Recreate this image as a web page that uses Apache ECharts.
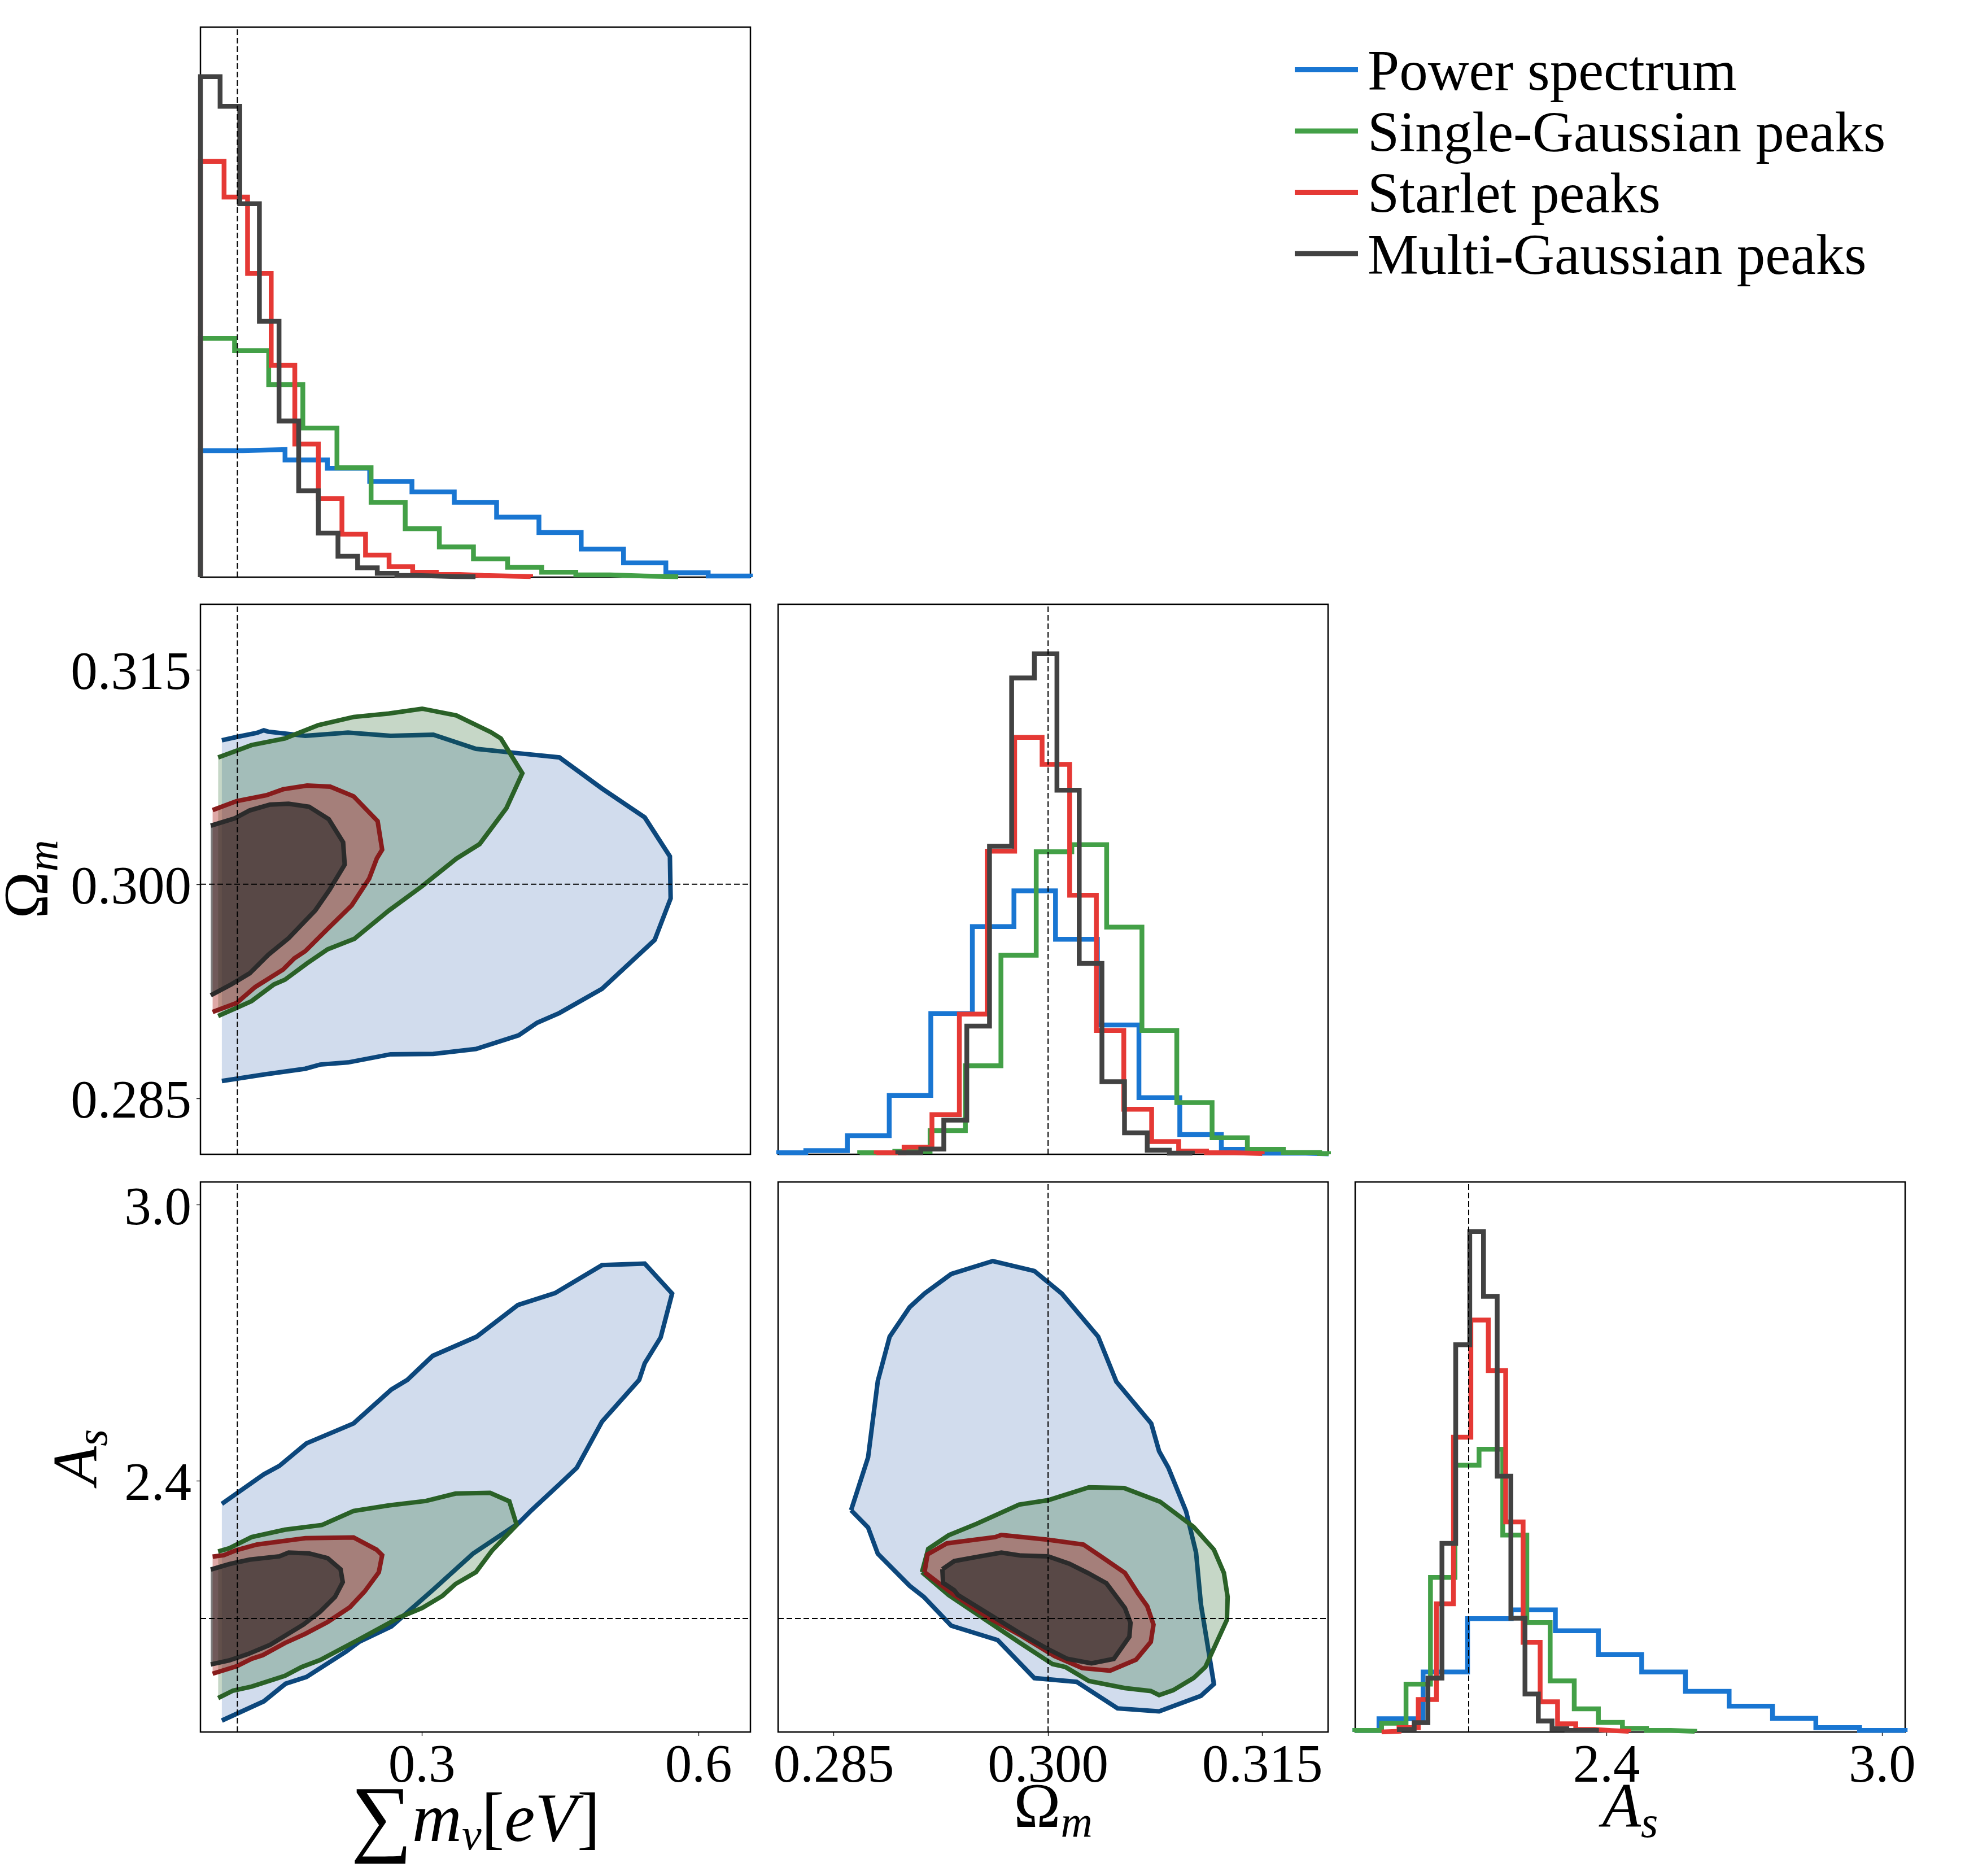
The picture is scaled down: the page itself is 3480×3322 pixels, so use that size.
<!DOCTYPE html>
<html style="height: 100%">
<head>
    <meta charset="utf-8">
    <title>Corner plot</title>
    <script src="https://cdn.jsdelivr.net/npm/echarts@6/dist/echarts.min.js"></script>
</head>
<body style="height: 100%; margin: 0; background: #fff">
    <div id="container" style="width: 3480px; height: 3322px"></div>
    <script type="text/javascript">

        const seriesNames = ['Power spectrum', 'Single-Gaussian peaks', 'Starlet peaks', 'Multi-Gaussian peaks'];

        // tick labels and true values
        const massTicks = [0.3, 0.6];
        const omegaTicks = [0.285, 0.300, 0.315];
        const asTicks = [2.4, 3.0];
        const truthMass = 0.1;
        const truthOmega = 0.3;
        const truthAs = 2.1;

        // axis ranges
        const massRange = [0.06, 0.6563];
        const omegaRange = [0.2811, 0.3196];
        const asRange = [1.853, 3.05];

        // 1D histograms, bin edges then heights (percent of panel height)
        const massEdgesPower = [0.06, 0.1059, 0.1517, 0.1976, 0.2435, 0.2893, 0.3352, 0.3811, 0.4270, 0.4728, 0.5187, 0.5646, 0.6105, 0.6563];
        const massHistPower = [23.0, 23.2, 21.3, 19.8, 17.4, 15.5, 13.6, 10.9, 8.1, 5.1, 2.6, 0.8, 0.2];
        const massEdgesSingle = [0.06, 0.097, 0.134, 0.171, 0.208, 0.245, 0.282, 0.319, 0.356, 0.393, 0.430, 0.467, 0.504, 0.541, 0.578];
        const massHistSingle = [43.4, 41.2, 35.0, 27.1, 19.9, 13.6, 8.8, 5.5, 3.3, 1.8, 0.9, 0.4, 0.2, 0.07];
        const massEdgesStarlet = [0.06, 0.0856, 0.1111, 0.1367, 0.1623, 0.1878, 0.2134, 0.239, 0.2645, 0.2901, 0.3157, 0.3413, 0.3668, 0.3924, 0.418];
        const massHistStarlet = [75.6, 69.1, 55.2, 38.5, 24.2, 14.3, 7.8, 4.0, 1.9, 0.9, 0.5, 0.3, 0.2, 0.1];
        const massEdgesMulti = [0.06, 0.0813, 0.1026, 0.1239, 0.1452, 0.1665, 0.1878, 0.2091, 0.2304, 0.2517, 0.273, 0.2943, 0.3156, 0.3369, 0.3582];
        const massHistMulti = [91.0, 85.6, 67.9, 46.5, 28.4, 15.7, 8.0, 3.8, 1.7, 0.7, 0.3, 0.2, 0.1, 0.07];

        const omegaEdgesPower = [0.28114, 0.28304, 0.28595, 0.28888, 0.29179, 0.2947, 0.29761, 0.30052, 0.30345, 0.30636, 0.30922, 0.31213, 0.31512, 0.31803, 0.31964];
        const omegaHistPower = [0.27, 0.67, 3.4, 10.7, 25.6, 41.4, 47.9, 39.1, 23.5, 10.3, 3.6, 0.9, 0.2, 0.07];
        const omegaEdgesSingle = [0.28681, 0.28927, 0.29174, 0.29421, 0.2967, 0.29917, 0.30166, 0.3041, 0.30657, 0.30901, 0.31148, 0.31395, 0.31647, 0.31901, 0.31964];
        const omegaHistSingle = [0.27, 0.54, 4.3, 16.1, 36.2, 55.0, 56.3, 41.3, 22.5, 9.4, 3.0, 0.9, 0.34, 0.13];
        const omegaEdgesStarlet = [0.28797, 0.28992, 0.29187, 0.29379, 0.29574, 0.29766, 0.29958, 0.30151, 0.30338, 0.3053, 0.30725, 0.30914, 0.31109, 0.31304, 0.31499];
        const omegaHistStarlet = [0.27, 1.3, 7.2, 25.5, 55.1, 75.8, 70.9, 47.1, 22.5, 8.2, 2.3, 0.6, 0.27, 0.13];
        const omegaEdgesMulti = [0.28948, 0.29109, 0.2927, 0.29431, 0.2959, 0.29745, 0.29904, 0.30062, 0.30218, 0.30377, 0.30535, 0.30694, 0.30849, 0.3101];
        const omegaHistMulti = [0.27, 0.94, 6.2, 23.3, 56.0, 86.6, 91.0, 66.2, 34.7, 13.2, 3.9, 0.74, 0.2];

        const asEdgesPower = [1.8524, 1.9048, 2.0008, 2.0976, 2.1927, 2.2887, 2.3823, 2.4766, 2.5718, 2.6669, 2.7613, 2.8556, 2.9508, 3.05];
        const asHistPower = [0.27, 2.4, 10.9, 20.6, 22.2, 18.4, 14.1, 10.9, 7.4, 4.7, 2.5, 0.8, 0.27];
        const asEdgesSingle = [1.8524, 1.9105, 1.9637, 2.0169, 2.0702, 2.1226, 2.1742, 2.2266, 2.2774, 2.3298, 2.3823, 2.4347, 2.4871, 2.5395, 2.5919];
        const asHistSingle = [0.27, 1.6, 8.7, 28.1, 48.5, 51.4, 35.8, 19.9, 9.3, 4.2, 1.75, 0.67, 0.27, 0.13];
        const asEdgesStarlet = [1.9105, 1.9484, 1.9903, 2.0298, 2.0669, 2.1048, 2.1427, 2.1806, 2.2185, 2.2556, 2.2935, 2.3331, 2.3742, 2.4105, 2.4484];
        const asHistStarlet = [0.13, 0.8, 5.9, 23.3, 53.6, 74.9, 65.7, 38.2, 16.3, 5.5, 1.5, 0.47, 0.27, 0.13];
        const asEdgesMulti = [1.9492, 1.9814, 2.0113, 2.0419, 2.0718, 2.1024, 2.1323, 2.1621, 2.1919, 2.2226, 2.2516, 2.2815, 2.3137, 2.3782];
        const asHistMulti = [0.47, 1.7, 9.8, 34.3, 70.4, 91.0, 79.2, 46.5, 20.7, 6.9, 2.0, 0.6, 0.27];

        // 2D contours, mass vs omega
        const massOmegaPower = [[0.0832, 0.31008], [0.0993, 0.31031], [0.1214, 0.3106], [0.1287, 0.31078], [0.1335, 0.31068], [0.1737, 0.31039], [0.2200, 0.31062], [0.2662, 0.31039], [0.3125, 0.31047], [0.3587, 0.30948], [0.4050, 0.30917], [0.4492, 0.30888], [0.4954, 0.3067], [0.5417, 0.30468], [0.5690, 0.30195], [0.5698, 0.29901], [0.5525, 0.2961], [0.4954, 0.29268], [0.4492, 0.29099], [0.4251, 0.29031], [0.4050, 0.28943], [0.3587, 0.28847], [0.3125, 0.28813], [0.2662, 0.2881], [0.2200, 0.28753], [0.1898, 0.28738], [0.1737, 0.28709], [0.1287, 0.28668], [0.0832, 0.28623]];
        const massOmegaSingle = [[0.0792, 0.30888], [0.0993, 0.30935], [0.1154, 0.30974], [0.1516, 0.31021], [0.1878, 0.31114], [0.2260, 0.31171], [0.2642, 0.31195], [0.3004, 0.31229], [0.3374, 0.31182], [0.3748, 0.31065], [0.3857, 0.31021], [0.4090, 0.30777], [0.3917, 0.30532], [0.3627, 0.30281], [0.3374, 0.30179], [0.3004, 0.29987], [0.2642, 0.29816], [0.2268, 0.29618], [0.1979, 0.29545], [0.1757, 0.29447], [0.1516, 0.29332], [0.1396, 0.29299], [0.1154, 0.29182], [0.0993, 0.29135], [0.0792, 0.29078]];
        const massOmegaStarlet = [[0.0732, 0.30519], [0.0993, 0.30582], [0.1315, 0.30623], [0.1496, 0.30665], [0.1757, 0.30691], [0.2007, 0.30683], [0.2260, 0.30616], [0.2521, 0.30442], [0.2570, 0.30242], [0.2513, 0.30182], [0.2429, 0.30039], [0.2240, 0.29852], [0.1979, 0.29688], [0.1737, 0.29532], [0.1617, 0.29481], [0.1496, 0.29403], [0.1194, 0.29281], [0.0993, 0.29169], [0.0732, 0.29106]];
        const massOmegaMulti = [[0.0712, 0.3041], [0.0973, 0.30462], [0.1134, 0.30517], [0.1355, 0.30558], [0.1556, 0.30564], [0.1777, 0.30543], [0.1991, 0.30455], [0.2147, 0.30294], [0.2164, 0.30138], [0.1999, 0.29961], [0.1846, 0.29818], [0.1556, 0.29623], [0.1335, 0.29506], [0.1134, 0.29377], [0.0933, 0.29299], [0.0712, 0.29223]];

        // 2D contours, mass vs As
        const massAsPower = [[0.0832, 2.3494], [0.1287, 2.4137], [0.1456, 2.4321], [0.1749, 2.4811], [0.2260, 2.5245], [0.2670, 2.5984], [0.2843, 2.6193], [0.3117, 2.6715], [0.3595, 2.7133], [0.4042, 2.7823], [0.4444, 2.8080], [0.4954, 2.8691], [0.5417, 2.8723], [0.5714, 2.8072], [0.5590, 2.7117], [0.5417, 2.6554], [0.5357, 2.6193], [0.4954, 2.5285], [0.4681, 2.4281], [0.4492, 2.3920], [0.4190, 2.3357], [0.4050, 2.3076], [0.3555, 2.2410], [0.3125, 2.1631], [0.2670, 2.0827], [0.2320, 2.0490], [0.2180, 2.0281], [0.1749, 1.9727], [0.1524, 1.9582], [0.1287, 1.9197], [0.0832, 1.8779]];
        const massAsSingle = [[0.0792, 2.2458], [0.0913, 2.2530], [0.1154, 2.2771], [0.1516, 2.2932], [0.1918, 2.3036], [0.2260, 2.3341], [0.2642, 2.3462], [0.3044, 2.3558], [0.3366, 2.3719], [0.3740, 2.3735], [0.3949, 2.3550], [0.4029, 2.3036], [0.3760, 2.2474], [0.3587, 2.2008], [0.3366, 2.1751], [0.3225, 2.1494], [0.3004, 2.1229], [0.2763, 2.1028], [0.2320, 2.0546], [0.1898, 2.0096], [0.1697, 1.9944], [0.1516, 1.9751], [0.1154, 1.9518], [0.0953, 1.9430], [0.0792, 1.9269]];
        const massAsStarlet = [[0.0732, 2.2345], [0.0853, 2.2378], [0.0993, 2.2490], [0.1214, 2.2610], [0.1516, 2.2691], [0.1737, 2.2747], [0.2260, 2.2763], [0.2509, 2.2498], [0.2570, 2.2378], [0.2534, 2.2008], [0.2381, 2.1590], [0.2220, 2.1245], [0.1979, 2.0924], [0.1737, 2.0667], [0.1516, 2.0466], [0.1275, 2.0201], [0.1154, 2.0121], [0.0993, 1.9960], [0.0732, 1.9799]];
        const massAsMulti = [[0.0712, 2.2064], [0.0913, 2.2185], [0.1134, 2.2281], [0.1456, 2.2353], [0.1556, 2.2434], [0.1777, 2.2418], [0.1979, 2.2313], [0.2119, 2.2072], [0.2143, 2.1791], [0.2059, 2.1470], [0.1898, 2.1149], [0.1717, 2.0868], [0.1355, 2.0426], [0.1114, 2.0225], [0.0913, 2.0088], [0.0712, 2.0000]];

        // 2D contours, omega vs As (closed)
        const omegaAsPower = [[0.28621, 2.3357], [0.2874, 2.2980], [0.28808, 2.2410], [0.29031, 2.1711], [0.2913, 2.1470], [0.29322, 2.0843], [0.29647, 2.0530], [0.29904, 1.9703], [0.302, 1.9622], [0.30486, 1.9044], [0.30777, 1.8980], [0.3107, 1.9317], [0.31161, 1.9574], [0.3107, 2.1309], [0.31036, 2.2434], [0.30966, 2.3333], [0.30842, 2.4281], [0.30777, 2.4643], [0.30722, 2.5245], [0.30478, 2.6153], [0.30351, 2.7133], [0.30096, 2.8072], [0.29904, 2.8562], [0.29613, 2.8779], [0.29322, 2.8498], [0.29135, 2.8072], [0.29031, 2.7775], [0.28891, 2.7133], [0.28808, 2.6169], [0.2874, 2.4506], [0.28621, 2.3357]];
        const omegaAsSingle = [[0.29117, 2.2008], [0.29161, 2.2514], [0.29304, 2.2811], [0.29499, 2.3060], [0.29797, 2.3478], [0.3, 2.3574], [0.30286, 2.3855], [0.30532, 2.3839], [0.30784, 2.3542], [0.31018, 2.2996], [0.31161, 2.2498], [0.31231, 2.1992], [0.31257, 2.1470], [0.31252, 2.0972], [0.31101, 1.9944], [0.31018, 1.9703], [0.30875, 1.9438], [0.30777, 1.9333], [0.30719, 1.9422], [0.30538, 1.9486], [0.30286, 1.9639], [0.30122, 1.9944], [0.30031, 2.0008], [0.29797, 2.0482], [0.29304, 2.1510], [0.29117, 2.2008]];
        const omegaAsStarlet = [[0.29135, 2.2008], [0.29156, 2.2394], [0.29291, 2.2635], [0.29629, 2.2771], [0.29673, 2.2819], [0.3, 2.2715], [0.30247, 2.2610], [0.30369, 2.2353], [0.30538, 2.1992], [0.30629, 2.1550], [0.30694, 2.1269], [0.30738, 2.0868], [0.30719, 2.0490], [0.30616, 2.0104], [0.30434, 1.9864], [0.30239, 1.9920], [0.30044, 2.0185], [0.2981, 2.0627], [0.29577, 2.1028], [0.29343, 2.1510], [0.29135, 2.2008]];
        const omegaAsMulti = [[0.2926, 2.2072], [0.29343, 2.2249], [0.29525, 2.2353], [0.29673, 2.2434], [0.2981, 2.2369], [0.3, 2.2353], [0.30148, 2.2193], [0.30278, 2.1992], [0.30408, 2.1767], [0.30538, 2.1229], [0.30577, 2.0908], [0.30569, 2.0602], [0.3046, 2.0121], [0.30304, 2.0024], [0.30135, 2.0121], [0.29992, 2.0345], [0.2981, 2.0667], [0.29369, 2.1510], [0.29343, 2.1614], [0.29265, 2.1775], [0.2926, 2.2072]];

        const histColors = ['#1976d2', '#43a047', '#e53935', '#424242'];
        const edgeColors = ['#0c477c', '#2a6127', '#871c1c', '#2b2b2b'];
        const fillColors = ['rgba(13,71,161,0.19)', 'rgba(27,94,32,0.25)', 'rgba(168,27,20,0.38)', 'rgba(33,33,33,0.58)'];

        const serif = '"Liberation Serif", serif';
        const colLeft = [355, 1378, 2400];
        const rowTop = [48, 1070, 2093];
        const panelSize = 974;

        // col, row, x range, y range (y null = histogram)
        const panels = [
            { col: 0, row: 0, x: massRange, y: null },
            { col: 0, row: 1, x: massRange, y: omegaRange },
            { col: 1, row: 1, x: omegaRange, y: null },
            { col: 0, row: 2, x: massRange, y: asRange },
            { col: 1, row: 2, x: omegaRange, y: asRange },
            { col: 2, row: 2, x: asRange, y: null }
        ];

        function tickAxis(ticks, digits, labelPadding) {
            return {
                axisTick: { show: true, customValues: ticks, length: 7, lineStyle: { color: '#000', width: 1.3 } },
                axisLabel: {
                    show: true, customValues: ticks, margin: 16,
                    formatter: v => '{t|' + v.toFixed(digits) + '}',
                    rich: { t: { fontFamily: serif, fontSize: 95, color: '#000', padding: labelPadding } }
                }
            };
        }

        const mathRich = {
            b: { fontFamily: serif, fontSize: 112, color: '#000', lineHeight: 130 },
            i: { fontFamily: serif, fontSize: 112, fontStyle: 'italic', color: '#000', lineHeight: 130 },
            k: { fontFamily: serif, fontSize: 122, color: '#000', lineHeight: 130 },
            j: { fontFamily: serif, fontSize: 122, fontStyle: 'italic', color: '#000', lineHeight: 130 },
            s: { fontFamily: serif, fontSize: 78, fontStyle: 'italic', color: '#000', lineHeight: 78, verticalAlign: 'bottom' },
            sum: { fontFamily: serif, fontSize: 152, color: '#000', lineHeight: 130 }
        };

        const grid = panels.map(p => ({
            show: true, left: colLeft[p.col], top: rowTop[p.row], width: panelSize, height: panelSize,
            borderColor: '#000', borderWidth: 2.5, backgroundColor: '#fff', outerBoundsMode: 'none', containLabel: false
        }));

        const xAxis = panels.map((p, i) => ({
            gridIndex: i, type: 'value', min: p.x[0], max: p.x[1], show: false,
            axisLine: { show: false, onZero: false }, splitLine: { show: false }
        }));
        const yAxis = panels.map((p, i) => ({
            gridIndex: i, type: 'value', min: p.y ? p.y[0] : 0, max: p.y ? p.y[1] : 100, show: false,
            axisLine: { show: false, onZero: false }, splitLine: { show: false }
        }));

        function bottomAxis(i, ticks, digits, name, gap) {
            Object.assign(xAxis[i], tickAxis(ticks, digits, 0), {
                show: true, name: name, nameLocation: 'middle', nameGap: gap, nameMoveOverlap: false,
                nameTextStyle: { rich: mathRich }
            });
        }
        function leftAxis(i, ticks, digits, name, gap) {
            Object.assign(yAxis[i], tickAxis(ticks, digits, [18, 0, 0, 0]), {
                show: true, name: name, nameLocation: 'middle', nameGap: gap,
                nameTextStyle: { rich: mathRich }
            });
        }
        bottomAxis(3, massTicks, 1, '{sum|∑}{j|m}{s|ν}{k|[}{j|eV}{k|]}', 96);
        bottomAxis(4, omegaTicks, 3, '{b|Ω}{s|m}', 74);
        bottomAxis(5, asTicks, 1, '{i|A}{s|s}', 74);
        leftAxis(1, omegaTicks, 3, '{b|Ω}{s|m}', 235);
        leftAxis(3, asTicks, 1, '{i|A}{s|s}', 148);

        function histPoints(edges, heights) {
            let pts = [[edges[0], 0]];
            heights.forEach((h, i) => { pts.push([edges[i], h], [edges[i + 1], h]); });
            pts.push([edges[edges.length - 1], 0]);
            return pts;
        }

        function histSeries(panel, k, edges, heights) {
            return {
                type: 'line', name: seriesNames[k], xAxisIndex: panel, yAxisIndex: panel,
                data: histPoints(edges, heights), showSymbol: false, symbol: 'none', silent: true,
                itemStyle: { color: histColors[k] },
                lineStyle: { color: histColors[k], width: 8.5, join: 'miter', cap: 'butt' }
            };
        }

        function contourSeries(panel, k, points) {
            return {
                type: 'custom', xAxisIndex: panel, yAxisIndex: panel, silent: true, clip: true,
                data: points, encode: { x: 0, y: 1 },
                renderItem: function (params, api) {
                    if (params.dataIndex !== 0) return null;
                    let px = points.map(p => api.coord(p));
                    return {
                        type: 'group', children: [
                            { type: 'polygon', shape: { points: px }, style: { fill: fillColors[k], stroke: null } },
                            { type: 'polyline', shape: { points: px }, style: { fill: null, stroke: edgeColors[k], lineWidth: 8, lineJoin: 'miter' } }
                        ]
                    };
                }
            };
        }

        function truthLine(panel, pts) {
            return {
                type: 'line', xAxisIndex: panel, yAxisIndex: panel, data: pts, showSymbol: false, symbol: 'none', silent: true, z: 5,
                lineStyle: { color: '#000', width: 2, type: [10, 5] }
            };
        }

        const series = [];
        [[massEdgesPower, massHistPower], [massEdgesSingle, massHistSingle], [massEdgesStarlet, massHistStarlet], [massEdgesMulti, massHistMulti]]
            .forEach((h, k) => series.push(histSeries(0, k, h[0], h[1])));
        [[omegaEdgesPower, omegaHistPower], [omegaEdgesSingle, omegaHistSingle], [omegaEdgesStarlet, omegaHistStarlet], [omegaEdgesMulti, omegaHistMulti]]
            .forEach((h, k) => series.push(histSeries(2, k, h[0], h[1])));
        [[asEdgesPower, asHistPower], [asEdgesSingle, asHistSingle], [asEdgesStarlet, asHistStarlet], [asEdgesMulti, asHistMulti]]
            .forEach((h, k) => series.push(histSeries(5, k, h[0], h[1])));

        [massOmegaPower, massOmegaSingle, massOmegaStarlet, massOmegaMulti].forEach((c, k) => series.push(contourSeries(1, k, c)));
        [massAsPower, massAsSingle, massAsStarlet, massAsMulti].forEach((c, k) => series.push(contourSeries(3, k, c)));
        [omegaAsPower, omegaAsSingle, omegaAsStarlet, omegaAsMulti].forEach((c, k) => series.push(contourSeries(4, k, c)));

        series.push(truthLine(0, [[truthMass, 0], [truthMass, 100]]));
        series.push(truthLine(1, [[truthMass, omegaRange[0]], [truthMass, omegaRange[1]]]));
        series.push(truthLine(1, [[massRange[0], truthOmega], [massRange[1], truthOmega]]));
        series.push(truthLine(2, [[truthOmega, 0], [truthOmega, 100]]));
        series.push(truthLine(3, [[truthMass, asRange[0]], [truthMass, asRange[1]]]));
        series.push(truthLine(3, [[massRange[0], truthAs], [massRange[1], truthAs]]));
        series.push(truthLine(4, [[truthOmega, asRange[0]], [truthOmega, asRange[1]]]));
        series.push(truthLine(4, [[omegaRange[0], truthAs], [omegaRange[1], truthAs]]));
        series.push(truthLine(5, [[truthAs, 0], [truthAs, 100]]));

        let chart = echarts.init(document.getElementById('container'));
        chart.setOption({
            backgroundColor: '#fff',
            animation: false,
            legend: {
                orient: 'vertical', left: 2293, top: 64, padding: 0, itemGap: -10.5,
                itemWidth: 112, itemHeight: 9, icon: 'rect', selectedMode: false,
                data: seriesNames,
                formatter: '{t|{name}}',
                textStyle: {
                    rich: { t: { fontFamily: serif, fontSize: 101, color: '#000', lineHeight: 79, padding: [18, 0, 0, 12] } }
                }
            },
            grid: grid,
            xAxis: xAxis,
            yAxis: yAxis,
            series: series
        });

    </script>
</body>
</html>
